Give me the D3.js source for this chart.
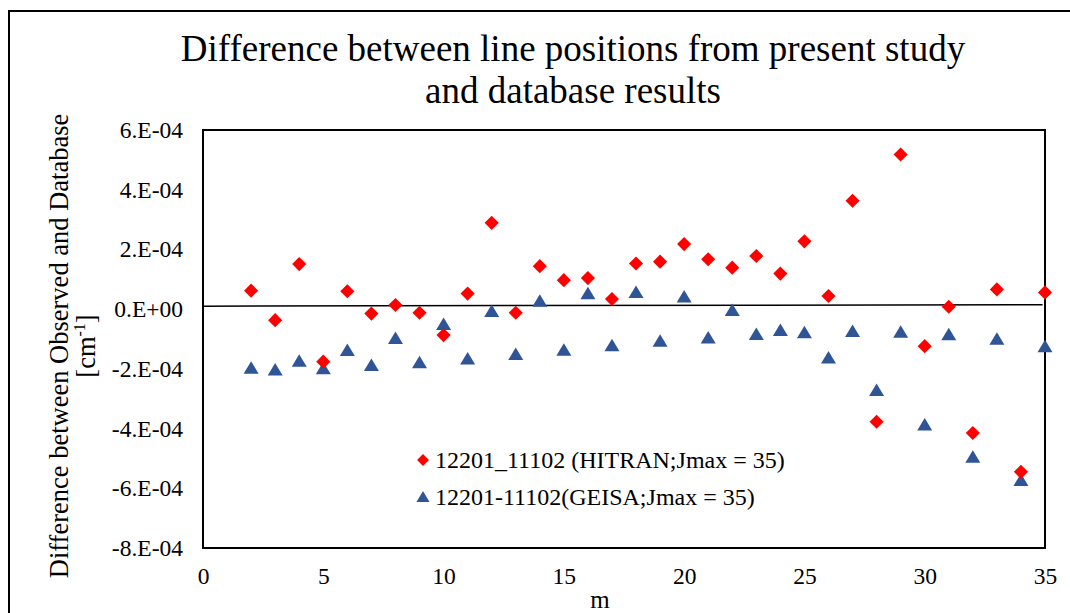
<!DOCTYPE html>
<html>
<head>
<meta charset="utf-8">
<script src="https://cdn.jsdelivr.net/npm/d3@7"></script>
<style>
  html, body { margin: 0; padding: 0; background: #fff; }
  svg { display: block; }
  text { font-family: "Liberation Serif", "Times New Roman", serif; fill: #000; }
</style>
</head>
<body>
<svg id="chart" width="1070" height="613"></svg>
<script>
// ---- data ----
const mValues = [2,3,4,5,6,7,8,9,10,11,12,13,14,15,16,17,18,19,20,21,22,23,24,25,26,27,28,29,30,31,32,33,34,35];
const hitranValues = [0.62,-0.37,1.51,-1.76,0.60,-0.15,0.14,-0.12,-0.87,0.52,2.89,-0.12,1.44,0.97,1.04,0.34,1.53,1.59,2.18,1.67,1.39,1.78,1.19,2.27,0.44,3.63,-3.77,5.18,-1.24,0.08,-4.15,0.66,-5.45,0.56].map(v => v * 1e-4);
const geisaValues = [-1.96,-2.02,-1.73,-1.98,-1.37,-1.87,-0.97,-1.78,-0.50,-1.65,-0.06,-1.50,0.28,-1.36,0.53,-1.21,0.57,-1.06,0.42,-0.95,-0.03,-0.83,-0.70,-0.77,-1.62,-0.73,-2.71,-0.76,-3.86,-0.84,-4.94,-0.99,-5.72,-1.24].map(v => v * 1e-4);
const yTickValues = [6e-4,4e-4,2e-4,0,-2e-4,-4e-4,-6e-4,-8e-4];
const yTickLabels = ["6.E-04","4.E-04","2.E-04","0.E+00","-2.E-04","-4.E-04","-6.E-04","-8.E-04"];
const xTickValues = [0,5,10,15,20,25,30,35];
const refLineM = [0, 34.9];
const refLineV = [0.1e-4, 0.15e-4];
const seriesNames = ["12201_11102 (HITRAN;Jmax = 35)", "12201-11102(GEISA;Jmax = 35)"];
const titleLines = ["Difference between line positions from present study", "and database results"];

// ---- layout ----
const svg = d3.select("#chart");
const plot = { left: 203, top: 130, right: 1045, bottom: 548 };
const x = d3.scaleLinear().domain([0, 35]).range([plot.left, plot.right]);
const y = d3.scaleLinear().domain([-8e-4, 6e-4]).range([plot.bottom, plot.top]);
const RED = "#FF0000", BLUE = "#2F5597";

// outer chart frame (extends past the visible window)
svg.append("rect").attr("x", 9).attr("y", 11).attr("width", 1100).attr("height", 700)
  .attr("fill", "#fff").attr("stroke", "#000").attr("stroke-width", 2);

// title
svg.append("g").selectAll("text").data(titleLines).join("text")
  .attr("x", 573).attr("y", (d, i) => 61 + i * 42)
  .attr("text-anchor", "middle").attr("font-size", 37).text(d => d);

// plot frame
svg.append("rect").attr("x", plot.left).attr("y", plot.top)
  .attr("width", plot.right - plot.left).attr("height", plot.bottom - plot.top)
  .attr("fill", "none").attr("stroke", "#000").attr("stroke-width", 2);

// axes (labels only, via d3 axes)
const yAxis = d3.axisLeft(y).tickValues(yTickValues)
  .tickFormat((d, i) => yTickLabels[i]).tickSize(0).tickPadding(20);
const gy = svg.append("g").attr("transform", `translate(${plot.left},0)`).call(yAxis);
gy.select(".domain").remove();
gy.selectAll("text").attr("font-size", 23.5).attr("font-family", "Liberation Serif").attr("fill", "#000");

const xAxis = d3.axisBottom(x).tickValues(xTickValues).tickFormat(d3.format("d"))
  .tickSize(0).tickPadding(19);
const gx = svg.append("g").attr("transform", `translate(0,${plot.bottom})`).call(xAxis);
gx.select(".domain").remove();
gx.selectAll("text").attr("font-size", 23.5).attr("font-family", "Liberation Serif").attr("fill", "#000");

// axis titles
svg.append("text").attr("x", 600).attr("y", 608).attr("text-anchor", "middle")
  .attr("font-size", 25).text("m");

const yt = svg.append("text").attr("transform", "translate(68,346) rotate(-90)")
  .attr("text-anchor", "middle").attr("font-size", 26.5);
yt.text("Difference between Observed and Database");
const yt2 = svg.append("text").attr("transform", "translate(95,346) rotate(-90)")
  .attr("text-anchor", "middle").attr("font-size", 26.5);
yt2.append("tspan").text("[cm");
yt2.append("tspan").attr("font-size", 16).attr("dy", -10).text("-1");
yt2.append("tspan").attr("dy", 10).text("]");

// reference zero line
svg.append("path")
  .datum(refLineM.map((m, i) => [m, refLineV[i]]))
  .attr("d", d3.line().x(d => x(d[0])).y(d => y(d[1])))
  .attr("stroke", "#000").attr("stroke-width", 1.5).attr("fill", "none");

// markers
const diamond = d3.symbol().type(d3.symbolSquare).size(100);
const triangle = "M0,-6.5L7.5,6L-7.5,6Z";

svg.append("g").selectAll("path").data(mValues.map((m, i) => [m, geisaValues[i]])).join("path")
  .attr("d", triangle).attr("fill", BLUE)
  .attr("transform", d => `translate(${x(d[0])},${y(d[1])})`);

svg.append("g").selectAll("path").data(mValues.map((m, i) => [m, hitranValues[i]])).join("path")
  .attr("d", diamond).attr("fill", RED)
  .attr("transform", d => `translate(${x(d[0])},${y(d[1])}) rotate(45)`);

// legend
const legend = svg.append("g");
legend.append("path").attr("d", d3.symbol().type(d3.symbolSquare).size(70))
  .attr("fill", RED).attr("transform", "translate(423,460) rotate(45)");
legend.append("text").attr("x", 435).attr("y", 468).attr("font-size", 24).text(seriesNames[0]);
legend.append("path").attr("d", "M0,-6L6.5,5L-6.5,5Z")
  .attr("fill", BLUE).attr("transform", "translate(423,497)");
legend.append("text").attr("x", 435).attr("y", 505).attr("font-size", 24).text(seriesNames[1]);
</script>
</body>
</html>
